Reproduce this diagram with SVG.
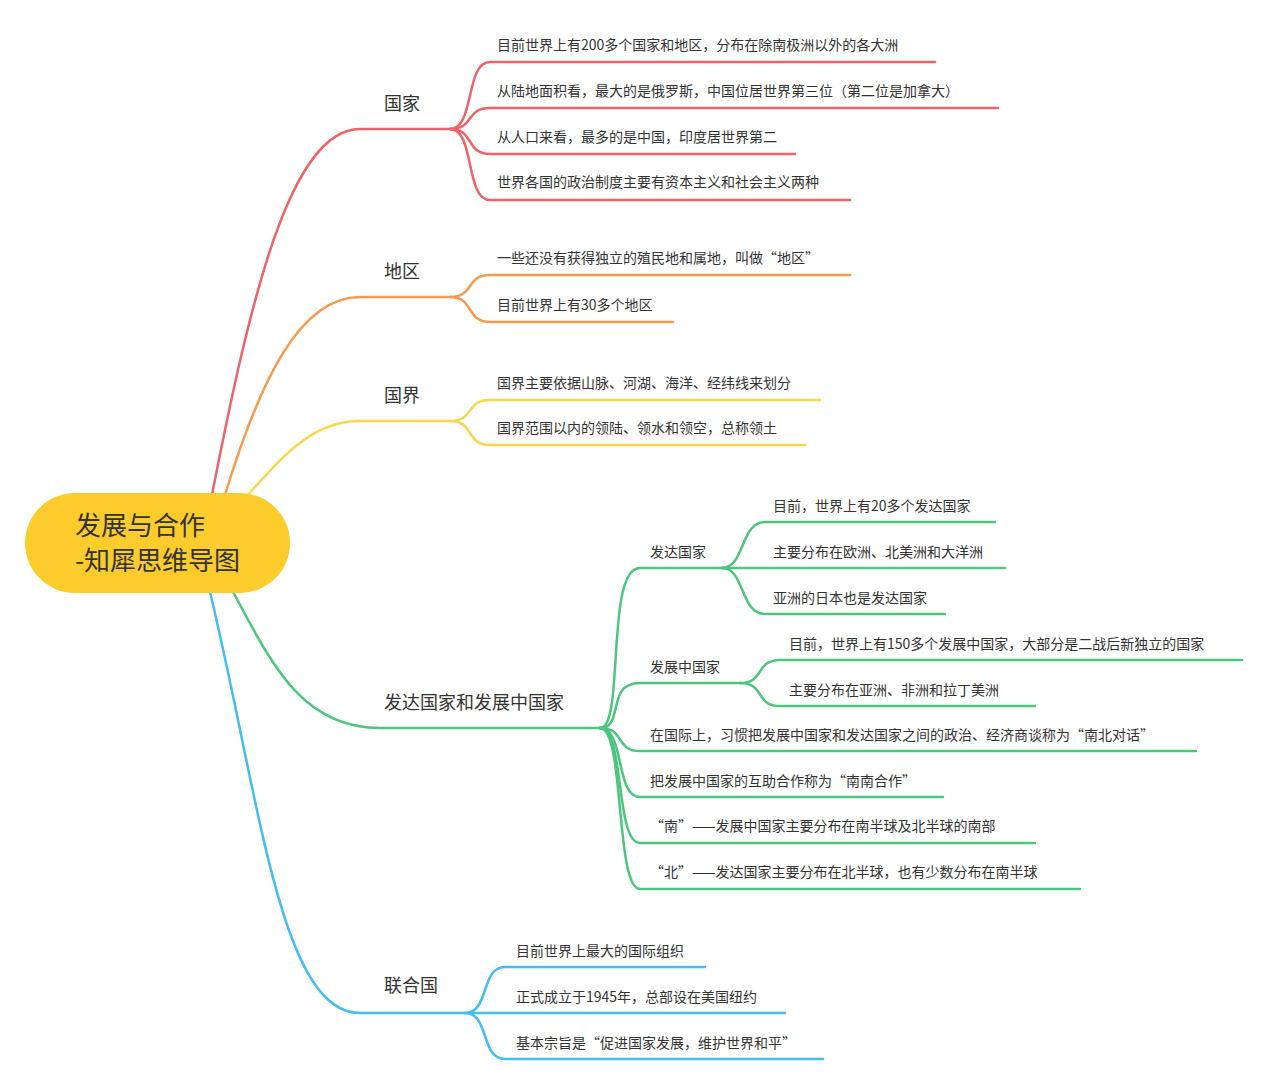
<svg xmlns="http://www.w3.org/2000/svg" width="1269" height="1086" viewBox="0 0 1269 1086">
<style>
text{font-family:"Noto Sans CJK SC","Noto Sans",sans-serif;fill:#333}
.t{font-size:14px}
.m{font-size:18px}
path{fill:none;stroke-width:2.5;stroke-linecap:round}
.r{stroke:#EC6468}.o{stroke:#F59A4E}.y{stroke:#F8D64E}.g{stroke:#4CC57D}.b{stroke:#45BDEE}
</style>
<rect width="1269" height="1086" fill="#fff"/>
<g id="connectors">
<path class="r" d="M212 495 C250 300 290 129 360 129 L450 129"/>
<path class="r" d="M450 129 C475 129 465 62 490 62 L935 62"/>
<path class="r" d="M450 129 C475 129 465 108 490 108 L998 108"/>
<path class="r" d="M450 129 C475 129 465 154 490 154 L795 154"/>
<path class="r" d="M450 129 C475 129 465 200 490 200 L850 200"/>
<path class="o" d="M225 495 C260 380 300 297 360 297 L450 297"/>
<path class="o" d="M450 297 C475 297 465 275 490 275 L850 275"/>
<path class="o" d="M450 297 C475 297 465 322 490 322 L673 322"/>
<path class="y" d="M245 498 C280 460 310 421 360 421 L450 421"/>
<path class="y" d="M450 421 C475 421 465 400 490 400 L820 400"/>
<path class="y" d="M450 421 C475 421 465 445 490 445 L805 445"/>
<path class="g" d="M232 590 C270 660 300 728 380 728 L600 728"/>
<path class="g" d="M600 728 C625 728 605 568 640 568 L722 568"/>
<path class="g" d="M722 568 C745 568 740 522 765 522 L995 522"/>
<path class="g" d="M722 568 L1005 568"/>
<path class="g" d="M722 568 C745 568 740 614 765 614 L945 614"/>
<path class="g" d="M600 728 C625 728 605 683 640 683 L740 683"/>
<path class="g" d="M740 683 C765 683 755 660 780 660 L1242 660"/>
<path class="g" d="M740 683 C765 683 755 706 780 706 L1035 706"/>
<path class="g" d="M600 728 C625 728 615 751 640 751 L1196 751"/>
<path class="g" d="M600 728 C625 728 615 797 640 797 L943 797"/>
<path class="g" d="M600 728 C625 728 615 843 640 843 L1035 843"/>
<path class="g" d="M600 728 C625 728 615 889 640 889 L1080 889"/>
<path class="b" d="M210 592 C260 800 280 1013 360 1013 L465 1013"/>
<path class="b" d="M465 1013 C490 1013 480 967 505 967 L705 967"/>
<path class="b" d="M465 1013 L785 1013"/>
<path class="b" d="M465 1013 C490 1013 480 1059 505 1059 L823 1059"/>
</g>
<g id="root"><rect x="25" y="493" width="265" height="100" rx="50" fill="#FCCB2C"/>
<text x="75" y="535" font-size="26">发展与合作</text><text x="75" y="570" font-size="26">-知犀思维导图</text></g>
<g id="n1"><text class="m" x="384" y="110">国家</text>
<text class="t" x="497" y="50">目前世界上有200多个国家和地区，分布在除南极洲以外的各大洲</text>
<text class="t" x="497" y="96">从陆地面积看，最大的是俄罗斯，中国位居世界第三位（第二位是加拿大）</text>
<text class="t" x="497" y="142">从人口来看，最多的是中国，印度居世界第二</text>
<text class="t" x="497" y="187">世界各国的政治制度主要有资本主义和社会主义两种</text></g>
<g id="n2"><text class="m" x="384" y="278">地区</text>
<text class="t" x="497" y="263">一些还没有获得独立的殖民地和属地，叫做“地区”</text>
<text class="t" x="497" y="310">目前世界上有30多个地区</text></g>
<g id="n3"><text class="m" x="384" y="402">国界</text>
<text class="t" x="497" y="388">国界主要依据山脉、河湖、海洋、经纬线来划分</text>
<text class="t" x="497" y="433">国界范围以内的领陆、领水和领空，总称领土</text></g>
<g id="n4"><text class="m" x="384" y="709">发达国家和发展中国家</text>
<text class="t" x="650" y="557">发达国家</text>
<text class="t" x="773" y="511">目前，世界上有20多个发达国家</text>
<text class="t" x="773" y="557">主要分布在欧洲、北美洲和大洋洲</text>
<text class="t" x="773" y="603">亚洲的日本也是发达国家</text>
<text class="t" x="650" y="672">发展中国家</text>
<text class="t" x="789" y="649">目前，世界上有150多个发展中国家，大部分是二战后新独立的国家</text>
<text class="t" x="789" y="695">主要分布在亚洲、非洲和拉丁美洲</text>
<text class="t" x="650" y="740">在国际上，习惯把发展中国家和发达国家之间的政治、经济商谈称为“南北对话”</text>
<text class="t" x="650" y="786">把发展中国家的互助合作称为“南南合作”</text>
<text class="t" x="650" y="831">“南”——发展中国家主要分布在南半球及北半球的南部</text>
<text class="t" x="650" y="877">“北”——发达国家主要分布在北半球，也有少数分布在南半球</text></g>
<g id="n5"><text class="m" x="384" y="992">联合国</text>
<text class="t" x="516" y="956">目前世界上最大的国际组织</text>
<text class="t" x="516" y="1002">正式成立于1945年，总部设在美国纽约</text>
<text class="t" x="516" y="1048">基本宗旨是“促进国家发展，维护世界和平”</text></g>
</svg>
